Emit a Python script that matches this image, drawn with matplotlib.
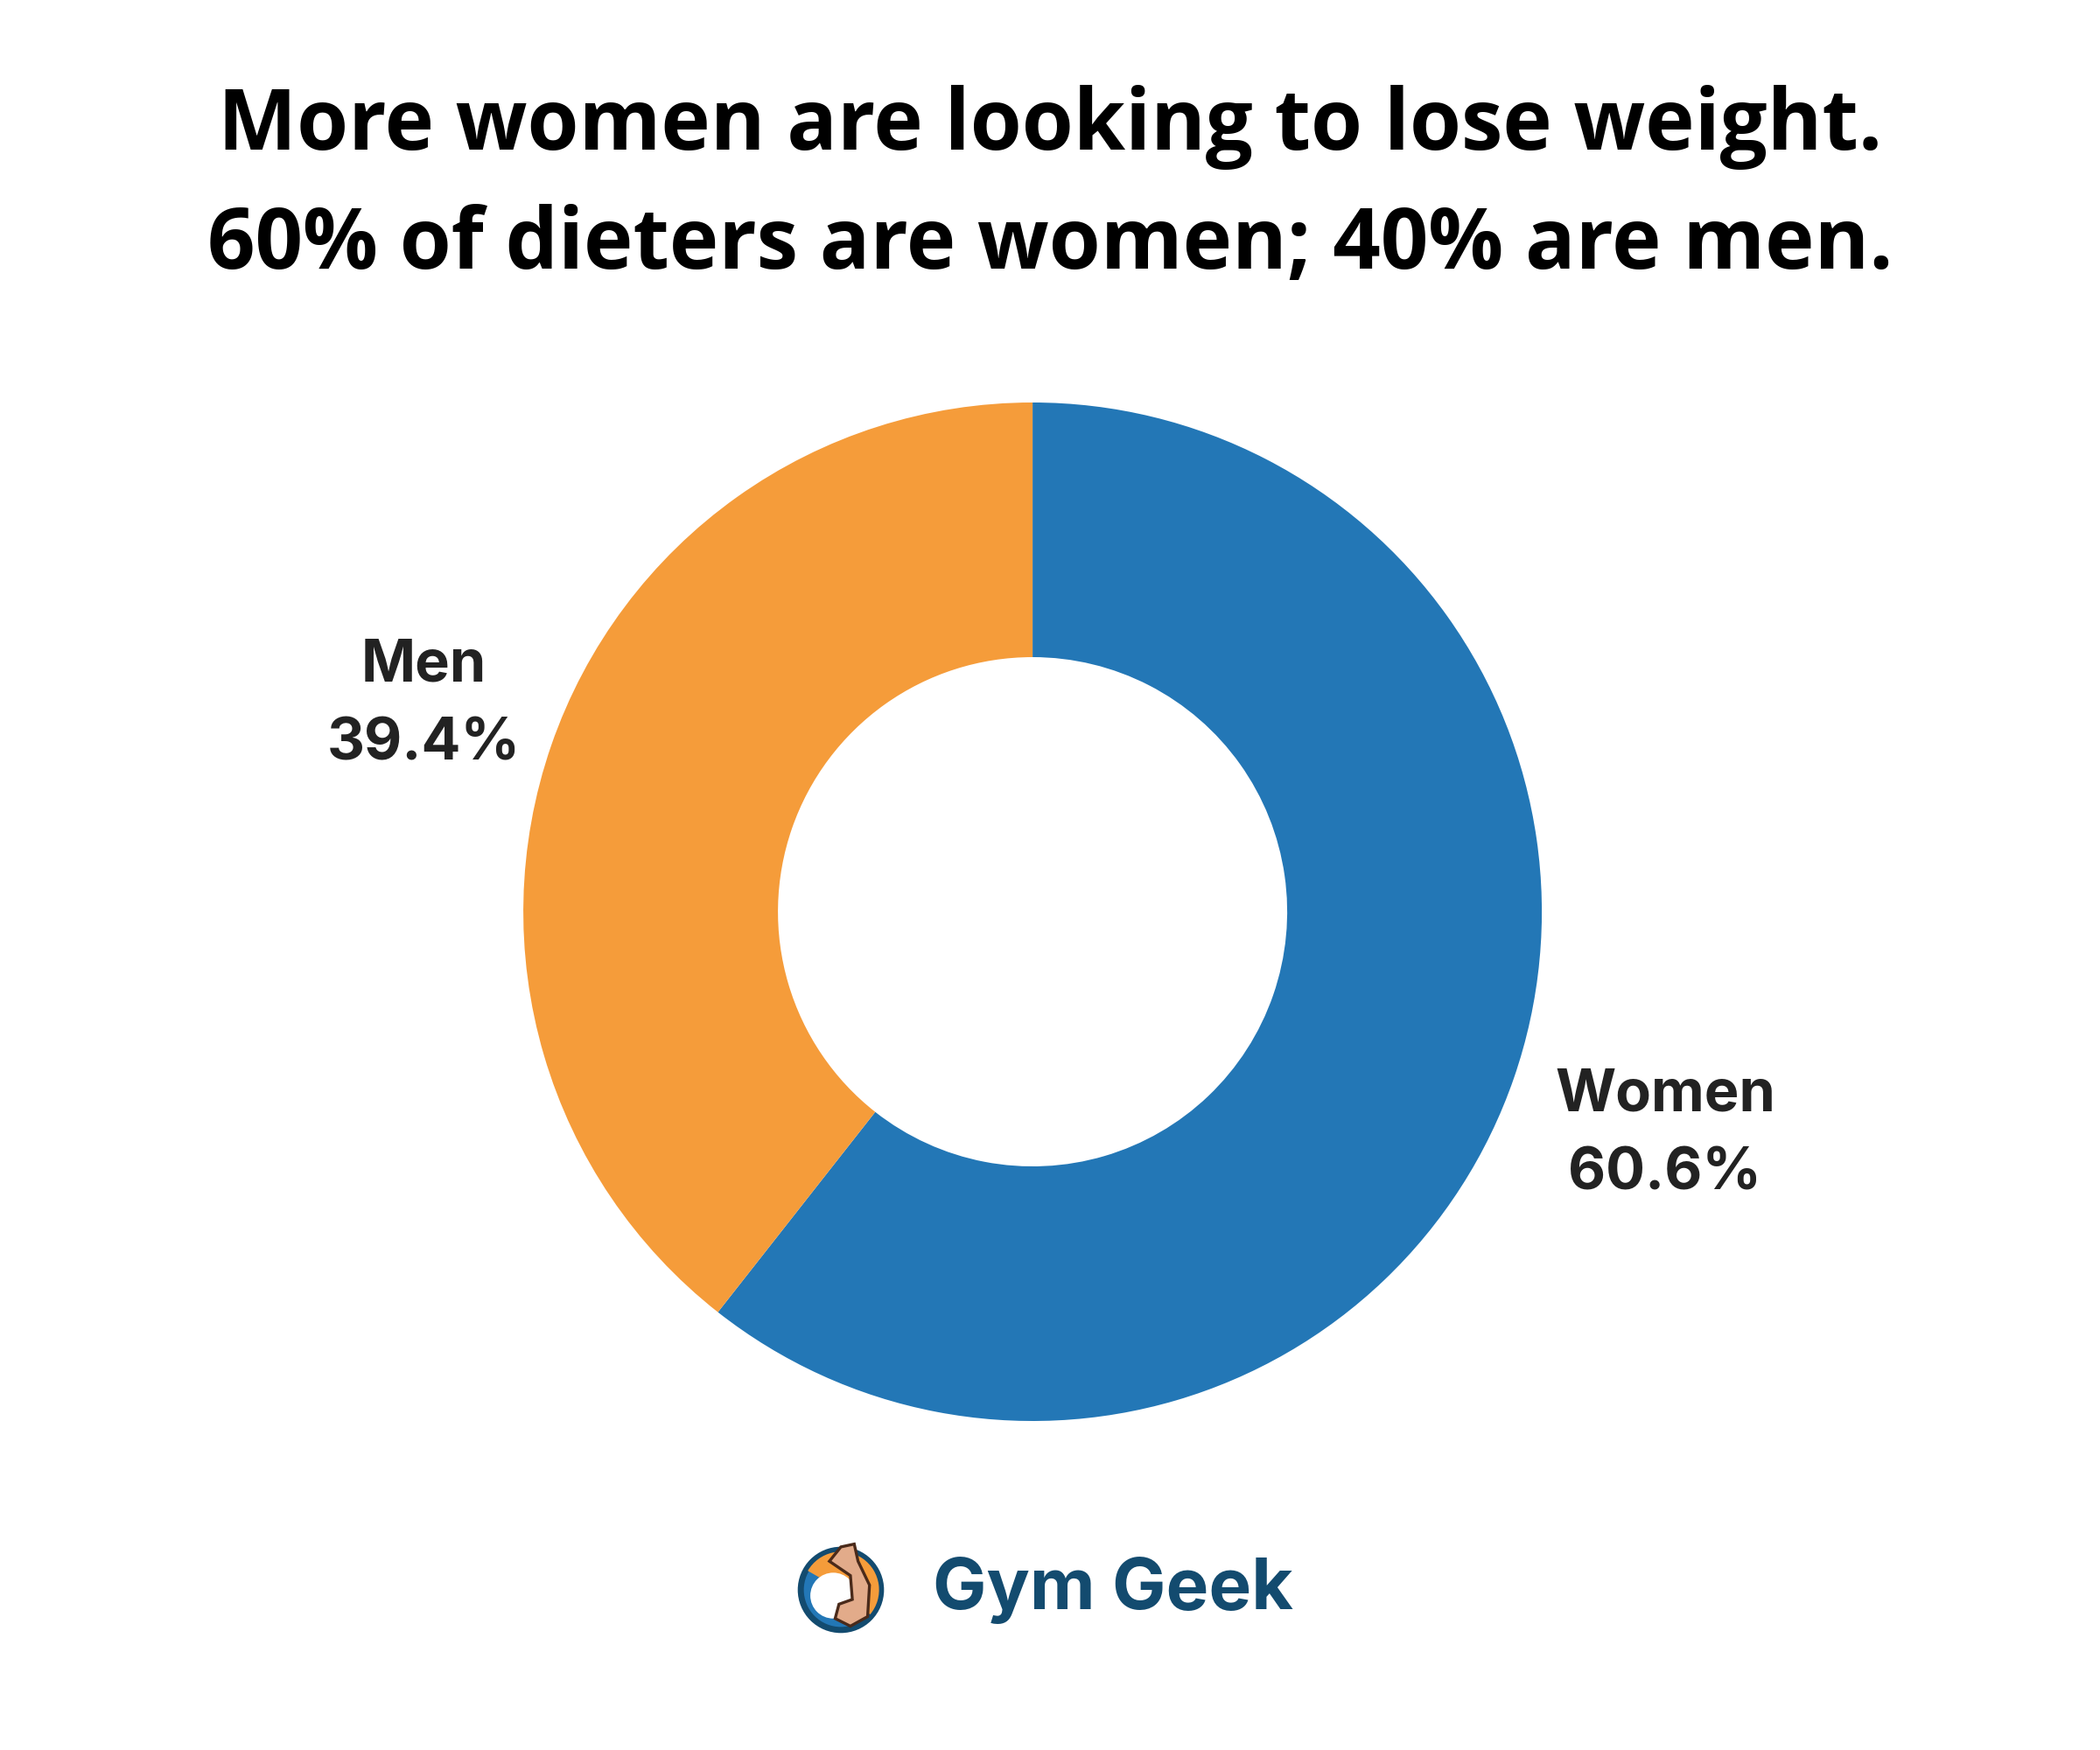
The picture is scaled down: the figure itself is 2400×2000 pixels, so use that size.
import matplotlib.pyplot as plt
from matplotlib.patches import Circle, Polygon, Wedge

# Data
labels = ['Women', 'Men']
shares = [60.6, 39.4]
colors = ['#2377b6', '#f59c3a']
title_lines = ['More women are looking to lose weight.',
               '60% of dieters are women; 40% are men.']
brand = 'Gym Geek'

fig = plt.figure(figsize=(12, 10), dpi=200)
fig.patch.set_facecolor('white')

# Title
fig.text(0.5, 0.927, title_lines[0], ha='center', va='center',
         fontsize=34.4, fontweight='bold', family='Open Sans', color='black')
fig.text(0.5, 0.8595, title_lines[1], ha='center', va='center',
         fontsize=34.4, fontweight='bold', family='Open Sans', color='black')

# Donut
ax = fig.add_axes([0.2492, 0.188, 0.485, 0.582])
ax.pie(shares, colors=colors, startangle=90, counterclock=False,
       radius=1, wedgeprops=dict(width=0.5, linewidth=0))
ax.set_xlim(-1, 1)
ax.set_ylim(-1, 1)
ax.set_aspect('equal')
ax.axis('off')

label_pos = [(1.242, -0.438), (-1.196, 0.405)]
for name, val, (lx, ly) in zip(labels, shares, label_pos):
    ax.text(lx, ly, f'{name}\n{val}%', ha='center', va='center',
            fontsize=24, fontweight='bold', family='Inter', color='#222222',
            linespacing=1.55, clip_on=False)

# Logo
cx, cy = 961 / 2400, 1 - 1817 / 2000
lax = fig.add_axes([cx - 60 / 2400, cy - 60 / 2000, 120 / 2400, 120 / 2000])
lax.set_xlim(-55, 55)
lax.set_ylim(-55, 55)
lax.set_aspect('equal')
lax.axis('off')
lax.add_patch(Circle((0, 0), 42, facecolor='#2377b6', edgecolor='#134b6f', lw=2.5))
lax.add_patch(Wedge((0, 0), 40, -40, 150, facecolor='#f59c3a', lw=0))
lax.add_patch(Circle((-8, -6), 24, facecolor='white', lw=0))
lax.add_patch(Polygon([(-12, 30), (0, 45), (14, 48), (18, 30), (30, 5), (28, -28),
                       (10, -38), (-6, -30), (-2, -15), (12, -10), (10, 15)],
                      closed=True, facecolor='#e2ab8a', edgecolor='#4a2a1a', lw=1.2))
fig.text(1272 / 2400, cy, brand, ha='center', va='center',
         fontsize=29.5, fontweight='bold', family='Inter', color='#134b6f')

fig.savefig('out.png', dpi=200, facecolor='white')
